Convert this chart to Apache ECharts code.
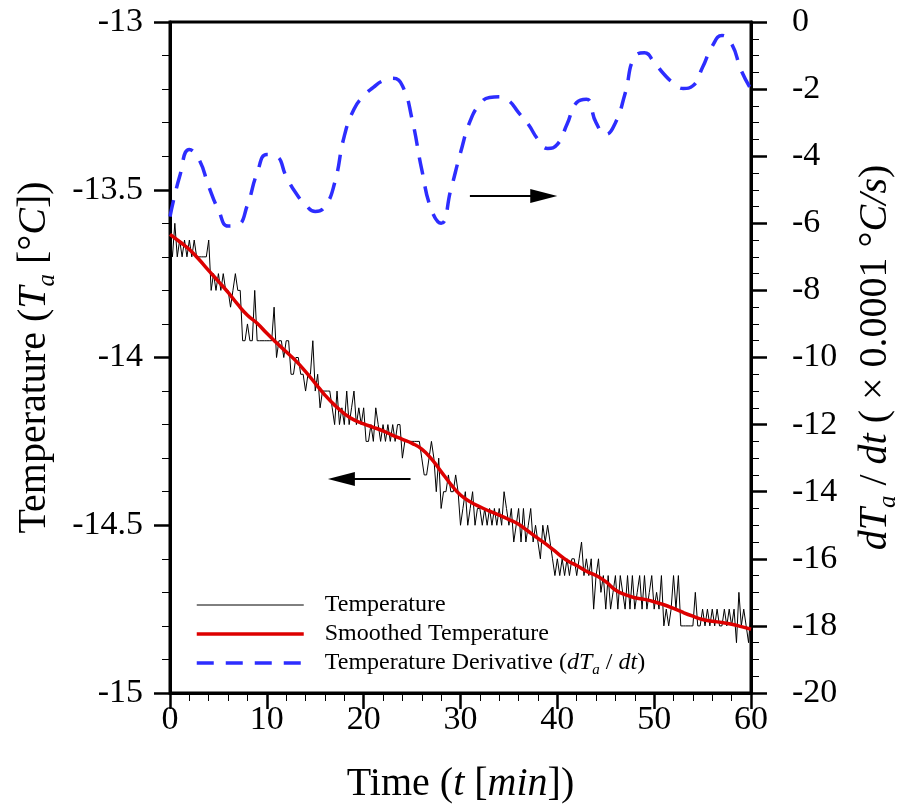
<!DOCTYPE html>
<html><head><meta charset="utf-8">
<script src="https://cdn.jsdelivr.net/npm/echarts@6/dist/echarts.min.js"></script>
<style>html,body{margin:0;padding:0;background:#fff}#c{width:909px;height:811px}</style>
</head><body><div id="c"></div>
<script>
// ---------- data ----------
const rawInterval = 0.25; // minutes between raw samples
const rawTemperature = [
 -13.65,-13.70,-13.60,-13.70, -13.65,-13.70,-13.65,-13.70, -13.65,-13.70,-13.65,-13.70, -13.70,-13.70,-13.70,-13.70,
 -13.65,-13.80,-13.75,-13.80, -13.75,-13.80,-13.75,-13.80, -13.80,-13.85,-13.80,-13.75, -13.80,-13.80,-13.95,-13.95,
 -13.90,-13.95,-13.95,-13.80, -13.95,-13.95,-13.95,-13.95, -13.95,-13.95,-13.95,-13.85, -14.00,-13.95,-13.95,-14.00,
 -13.95,-13.95,-14.05,-14.05, -14.00,-14.00,-14.05,-14.05, -14.10,-14.05,-14.05,-13.95, -14.10,-14.05,-14.15,-14.10,
 -14.10,-14.10,-14.10,-14.15, -14.20,-14.10,-14.20,-14.15, -14.20,-14.10,-14.20,-14.15, -14.10,-14.20,-14.15,-14.20,
 -14.15,-14.25,-14.25,-14.20, -14.25,-14.15,-14.20,-14.25, -14.20,-14.25,-14.20,-14.25, -14.20,-14.25,-14.20,-14.20,
 -14.30,-14.25,-14.25,-14.25, -14.25,-14.25,-14.25,-14.25, -14.30,-14.35,-14.35,-14.30, -14.25,-14.30,-14.40,-14.30,
 -14.45,-14.40,-14.40,-14.35, -14.40,-14.40,-14.35,-14.40, -14.50,-14.45,-14.40,-14.50, -14.45,-14.40,-14.50,-14.45,
 -14.45,-14.50,-14.45,-14.50, -14.45,-14.50,-14.45,-14.50, -14.45,-14.50,-14.40,-14.45, -14.50,-14.45,-14.55,-14.50,
 -14.45,-14.55,-14.45,-14.55, -14.50,-14.45,-14.55,-14.50, -14.55,-14.60,-14.50,-14.55, -14.50,-14.55,-14.60,-14.65,
 -14.60,-14.65,-14.60,-14.65, -14.60,-14.65,-14.60,-14.60, -14.65,-14.60,-14.55,-14.65, -14.60,-14.65,-14.60,-14.75,
 -14.65,-14.60,-14.70,-14.65, -14.75,-14.65,-14.75,-14.70, -14.65,-14.75,-14.65,-14.70, -14.75,-14.65,-14.75,-14.65,
 -14.75,-14.70,-14.65,-14.75, -14.65,-14.75,-14.70,-14.65, -14.75,-14.70,-14.75,-14.65, -14.80,-14.75,-14.80,-14.75,
 -14.65,-14.75,-14.65,-14.80, -14.80,-14.80,-14.80,-14.80, -14.80,-14.70,-14.80,-14.80, -14.75,-14.80,-14.75,-14.80,
 -14.75,-14.80,-14.75,-14.80, -14.80,-14.75,-14.80,-14.75, -14.80,-14.75,-14.85,-14.70, -14.80,-14.75,-14.80,-14.85,
 -14.75
];
const minutes = [0,1,2,3,4,5,6,7,8,9,10,11,12,13,14,15,16,17,18,19,20,21,22,23,24,25,26,27,28,29,30,
 31,32,33,34,35,36,37,38,39,40,41,42,43,44,45,46,47,48,49,50,51,52,53,54,55,56,57,58,59,60];
const smoothedTemperature = [
 -13.633,-13.655,-13.678,-13.708,-13.741,-13.773,-13.806,-13.842,-13.874,-13.898,
 -13.928,-13.956,-13.983,-14.010,-14.042,-14.077,-14.112,-14.142,-14.167,-14.186,
 -14.198,-14.208,-14.219,-14.232,-14.244,-14.256,-14.273,-14.302,-14.340,-14.378,
 -14.410,-14.430,-14.445,-14.458,-14.470,-14.483,-14.497,-14.518,-14.539,-14.560,
 -14.583,-14.605,-14.620,-14.637,-14.650,-14.668,-14.693,-14.707,-14.716,-14.721,
 -14.728,-14.737,-14.748,-14.760,-14.771,-14.781,-14.786,-14.790,-14.795,-14.802,
 -14.810
];
const derivative = [ // x 0.0001 °C/s
 -5.8,-4.6,-3.8,-4.1,-4.9,-5.6,-6.08,-6.05,-5.45,-4.5,
 -3.95,-4.0,-4.6,-5.1,-5.45,-5.65,-5.5,-4.8,-3.4,-2.6,
 -2.2,-1.95,-1.75,-1.68,-1.9,-2.9,-4.4,-5.6,-6.0,-5.0,
 -3.9,-2.95,-2.45,-2.25,-2.23,-2.35,-2.7,-3.05,-3.5,-3.77,
 -3.65,-3.05,-2.4,-2.3,-3.0,-3.35,-3.0,-2.13,-1.03,-0.92,
 -1.2,-1.55,-1.82,-1.98,-1.9,-1.35,-0.72,-0.4,-0.65,-1.45,
 -2.0
];
// annotation arrows (data coordinates)
const arrowRight = {from:[30.97,-5.19], to:[38.6,-5.19]};   // points to derivative (right) axis
const arrowLeft  = {from:[24.84,-14.362], to:[17.7,-14.362]}; // points to temperature (left) axis

// ---------- chart ----------
const FONT = 'Liberation Serif';
const chart = echarts.init(document.getElementById('c'), null, {renderer:'canvas'});
const nameRich = {
  n:{fontFamily:FONT, fontSize:40, color:'#000', lineHeight:52},
  i:{fontFamily:FONT, fontSize:40, fontStyle:'italic', color:'#000', lineHeight:52},
  s:{fontFamily:FONT, fontSize:25, fontStyle:'italic', color:'#000', lineHeight:24, verticalAlign:'bottom'}
};
const legRich = {
  n:{fontFamily:FONT, fontSize:24, color:'#000', lineHeight:30},
  i:{fontFamily:FONT, fontSize:24, fontStyle:'italic', color:'#000', lineHeight:30},
  s:{fontFamily:FONT, fontSize:15, fontStyle:'italic', color:'#000', lineHeight:12, verticalAlign:'bottom'}
};
const legendText = {
  'Temperature':'{n|Temperature}',
  'Smoothed Temperature':'{n|Smoothed Temperature}',
  'Temperature Derivative':'{n|Temperature Derivative (}{i|dT}{s|a}{n| / }{i|dt}{n|)}'
};
const tickLabel = {color:'#000', fontFamily:FONT, fontSize:34};
function yAxisBase(){
  return {
    type:'value',
    axisLine:{show:true, onZero:false, lineStyle:{color:'#000', width:3}},
    axisTick:{show:true, inside:false, length:16, lineStyle:{color:'#000', width:2.5}},
    splitLine:{show:false},
    nameLocation:'middle', nameRotate:90
  };
}
const option = {
  animation:false,
  backgroundColor:'#fff',
  grid:{left:170, right:152, top:22, bottom:118, show:true, borderColor:'#000', borderWidth:3},
  legend:{
    orient:'vertical', left:190, top:588, itemWidth:107, itemHeight:22, itemGap:5,
    itemStyle:{opacity:0},
    data:[
      {name:'Temperature', lineStyle:{width:1}},
      {name:'Smoothed Temperature', lineStyle:{width:3.5}},
      {name:'Temperature Derivative', lineStyle:{width:3.5}}
    ],
    formatter:name=>legendText[name],
    textStyle:{rich:legRich, padding:[0,0,0,16]}
  },
  xAxis:{
    type:'value', min:0, max:60, interval:10,
    axisLine:{onZero:false, lineStyle:{color:'#000', width:3}},
    axisTick:{inside:false, length:16, lineStyle:{color:'#000', width:2.5}},
    minorTick:{show:true, splitNumber:5, length:8, lineStyle:{color:'#000', width:1}},
    splitLine:{show:false},
    axisLabel:Object.assign({margin:10}, tickLabel),
    name:'{n|Time (}{i|t}{n| [}{i|min}{n|])}',
    nameLocation:'middle', nameGap:65,
    nameTextStyle:{rich:nameRich}
  },
  yAxis:[
    Object.assign(yAxisBase(), {
      position:'left', min:-15, max:-13, interval:0.5,
      minorTick:{show:true, splitNumber:5, length:8, lineStyle:{color:'#000', width:1}},
      axisLabel:Object.assign({margin:27}, tickLabel),
      name:'{n|Temperature (}{i|T}{s|a}{n| [°}{i|C}{n|])}',
      nameGap:110,
      nameTextStyle:{rich:nameRich}
    }),
    Object.assign(yAxisBase(), {
      position:'right', min:-20, max:0, interval:2,
      minorTick:{show:true, splitNumber:4, length:8, lineStyle:{color:'#000', width:1}},
      axisLabel:Object.assign({margin:41}, tickLabel),
      name:'{i|dT}{s|a}{n| / }{i|dt}{n| ( × 0.0001 °}{i|C/s}{n|)}',
      nameGap:98,
      nameTextStyle:{rich:nameRich}
    })
  ],
  series:[
    {
      name:'Temperature', type:'line', yAxisIndex:0, symbol:'none', z:2,
      lineStyle:{color:'#000', width:1}, itemStyle:{color:'#000'},
      data:rawTemperature.map((v,i)=>[i*rawInterval, v]),
      markLine:{
        silent:true, symbol:['none','triangle'],
        lineStyle:{color:'#000', width:2, type:'solid'}, itemStyle:{color:'#000'},
        label:{show:false},
        data:[[{coord:arrowLeft.from, symbolSize:1},{coord:arrowLeft.to, symbolSize:[14,27]}]]
      }
    },
    {
      name:'Smoothed Temperature', type:'line', yAxisIndex:0, symbol:'none', smooth:true, z:3,
      lineStyle:{color:'#dd0000', width:3.5}, itemStyle:{color:'#dd0000'},
      data:minutes.map((t,i)=>[t, smoothedTemperature[i]])
    },
    {
      name:'Temperature Derivative', type:'line', yAxisIndex:1, symbol:'none', smooth:true, z:3,
      lineStyle:{color:'#2d2dff', width:3.5, type:[17,12]}, itemStyle:{color:'#2d2dff'},
      data:minutes.map((t,i)=>[t, derivative[i]]),
      markLine:{
        silent:true, symbol:['none','triangle'],
        lineStyle:{color:'#000', width:2, type:'solid'}, itemStyle:{color:'#000'},
        label:{show:false},
        data:[[{coord:arrowRight.from, symbolSize:1},{coord:arrowRight.to, symbolSize:[14,27]}]]
      }
    }
  ]
};
chart.setOption(option);
</script>
</body></html>
